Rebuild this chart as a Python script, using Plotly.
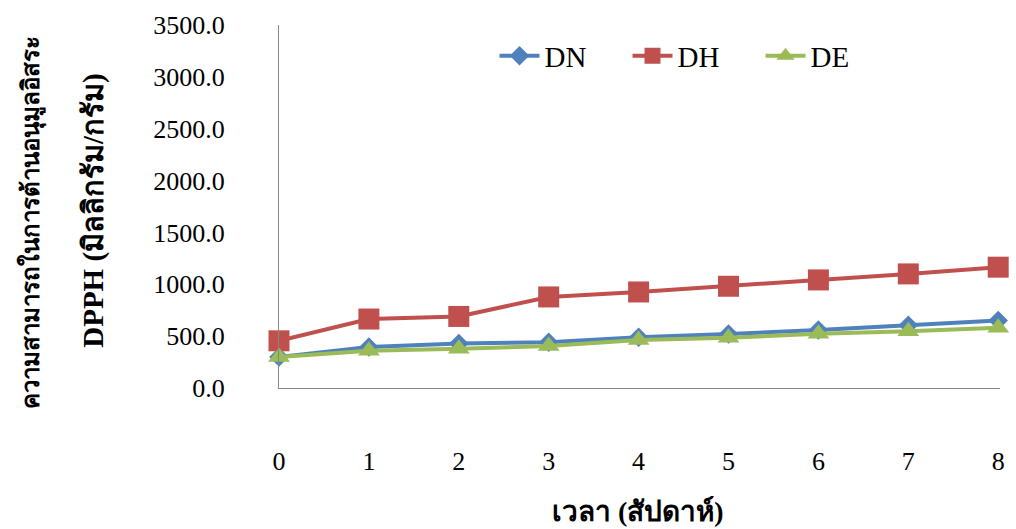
import plotly.graph_objects as go

weeks = [0, 1, 2, 3, 4, 5, 6, 7, 8]
dn = [300, 395, 430, 440, 490, 520, 560, 605, 650]
dh = [455, 665, 690, 878, 926, 981, 1042, 1100, 1165]
de = [300, 360, 378, 405, 462, 485, 523, 546, 582]
y_ticks = [0, 500, 1000, 1500, 2000, 2500, 3000, 3500]

x_title = "เวลา (สัปดาห์)"
y_title_1 = "ความสามารถในการต้านอนุมูลอิสระ"
y_title_2 = "DPPH (มิลลิกรัม/กรัม)"

W, H = 1016, 529
L, R, T, B = 279, 11, 24, 141
pw = W - L - R
ph = H - T - B

serif = "Liberation Serif, Times New Roman, serif"

fig = go.Figure()
fig.add_trace(go.Scatter(x=weeks, y=dn, name="DN", mode="lines+markers",
                         line=dict(color="#4F81BD", width=4),
                         marker=dict(symbol="diamond", size=15, color="#4F81BD"),
                         cliponaxis=False))
fig.add_trace(go.Scatter(x=weeks, y=dh, name="DH", mode="lines+markers",
                         line=dict(color="#C0504D", width=4),
                         marker=dict(symbol="square", size=21, color="#C0504D"),
                         cliponaxis=False))
fig.add_trace(go.Scatter(x=weeks, y=de, name="DE", mode="lines+markers",
                         line=dict(color="#9BBB59", width=4),
                         marker=dict(symbol="triangle-up", size=19, color="#9BBB59"),
                         cliponaxis=False))

fig.update_layout(
    width=W, height=H,
    margin=dict(l=L, r=R, t=T, b=B),
    paper_bgcolor="white", plot_bgcolor="white",
    font=dict(family=serif, size=26, color="black"),
    showlegend=True,
    legend=dict(orientation="h", x=(496 - L) / pw, y=(388 - 55) / ph,
                xanchor="left", yanchor="middle",
                font=dict(family=serif, size=29, color="black"),
                bgcolor="rgba(0,0,0,0)", itemwidth=40, tracegroupgap=0,
                entrywidth=78, entrywidthmode="pixels"),
    xaxis=dict(range=[0, 8.02], tickvals=weeks, ticktext=[str(w) for w in weeks],
               showline=True, linecolor="#868686", linewidth=1,
               showgrid=False, zeroline=False, ticks="",
               ticklabelstandoff=50,
               tickfont=dict(family=serif, size=26, color="black")),
    yaxis=dict(range=[0, 3500], tickvals=y_ticks, tickformat=".1f",
               showline=True, linecolor="#868686", linewidth=1,
               showgrid=False, zeroline=False, ticks="",
               ticklabelstandoff=48,
               tickfont=dict(family=serif, size=26, color="black")),
)

fig.add_annotation(text="<b>" + x_title + "</b>", xref="paper", yref="paper",
                   x=(640 - L) / pw, y=(388 - 512) / ph, showarrow=False,
                   font=dict(family=serif, size=28, color="black"),
                   xanchor="center", yanchor="middle")
fig.add_annotation(text="<b>" + y_title_1 + "</b>", xref="paper", yref="paper",
                   x=(30 - L) / pw, y=(388 - 222) / ph, showarrow=False, textangle=-90,
                   font=dict(family=serif, size=24, color="black"),
                   xanchor="center", yanchor="middle")
fig.add_annotation(text="<b>" + y_title_2 + "</b>", xref="paper", yref="paper",
                   x=(92 - L) / pw, y=(388 - 210) / ph, showarrow=False, textangle=-90,
                   font=dict(family=serif, size=29, color="black"),
                   xanchor="center", yanchor="middle")

fig.write_html("out.html")
